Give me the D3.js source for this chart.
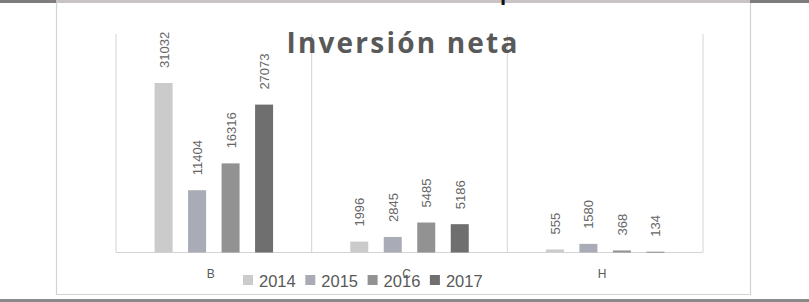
<!DOCTYPE html>
<html>
<head>
<meta charset="utf-8">
<script src="https://cdn.jsdelivr.net/npm/d3@7"></script>
<style>
  html, body { margin: 0; padding: 0; background: #fff; }
  svg { display: block; }
</style>
</head>
<body>
<div id="chart"></div>
<script>
// ━━━━━━━━━━━━━━━━━━━━━━━━━━━━━━━━━━━━━━━━━━━━━━━━━━━━━━━━━━━━━━━━━━━━━━━━━━━━━━
// Inversión neta ////////////////////////////////////////////////////////////////
// ━━━━━━━━━━━━━━━━━━━━━━━━━━━━━━━━━━━━━━━━━━━━━━━━━━━━━━━━━━━━━━━━━━━━━━━━━━━━━━

const categorias = ['B', 'C', 'H'];
const series = ['2014', '2015', '2016', '2017'];
const valores_2014 = [31032, 1996, 555];
const valores_2015 = [11404, 2845, 1580];
const valores_2016 = [16316, 5485, 368];
const valores_2017 = [27073, 5186, 134];
const colores = ['#cbcbcb', '#a9acb6', '#929292', '#6f6f6f'];

const valores = [valores_2014, valores_2015, valores_2016, valores_2017];

const width = 809;
const height = 302;

const svg = d3.select('#chart').append('svg')
  .attr('width', width)
  .attr('height', height)
  .attr('viewBox', [0, 0, width, height]);

// Marco ////////////////////////////////////////////////////////////////////////

svg.append('rect').attr('x', 0).attr('y', 0).attr('width', width).attr('height', 3).attr('fill', '#c9c3c3');
svg.append('rect').attr('x', 0).attr('y', 0).attr('width', 56).attr('height', 3).attr('fill', '#7d7d7d');
svg.append('rect').attr('x', 750).attr('y', 0).attr('width', width - 750).attr('height', 3).attr('fill', '#7d7d7d');
svg.append('rect').attr('x', 0).attr('y', 299).attr('width', width).attr('height', 3).attr('fill', '#8a8a8a');

// descender de un texto cortado arriba
svg.append('text').attr('x', 500).attr('y', 0)
  .attr('font-family', 'Liberation Sans, sans-serif').attr('font-weight', 'bold')
  .attr('font-size', 22).attr('fill', '#111').text('p');

svg.append('path')
  .attr('d', 'M56.5,3V294.5H750.5V3')
  .attr('fill', 'none')
  .attr('stroke', '#cfd4cf')
  .attr('stroke-width', 1.2);

// Escalas ////////////////////////////////////////////////////////////////////

const plot = { left: 116, right: 703, top: 34, bottom: 252.5 };

const x = d3.scaleBand()
  .domain(categorias)
  .range([plot.left, plot.right]);

const xSerie = d3.scalePoint()
  .domain(series)
  .range([-50.25, 50.25]);

const y = d3.scaleLinear()
  .domain([0, 40000])
  .range([plot.bottom, plot.top]);

const barW = 18;

// Grilla /////////////////////////////////////////////////////////////////////

svg.append('g')
  .selectAll('line')
  .data(categorias.concat(['fin']))
  .join('line')
  .attr('x1', d => d === 'fin' ? plot.right : x(d))
  .attr('x2', d => d === 'fin' ? plot.right : x(d))
  .attr('y1', plot.top)
  .attr('y2', plot.bottom)
  .attr('stroke', '#d4d4d4')
  .attr('stroke-width', 1);

svg.append('line')
  .attr('x1', plot.left).attr('x2', plot.right)
  .attr('y1', plot.bottom).attr('y2', plot.bottom)
  .attr('stroke', '#d4d4d4');

// Barras /////////////////////////////////////////////////////////////////////

const datos = [];
series.forEach((s, i) => {
  categorias.forEach((c, j) => {
    datos.push({ serie: s, categoria: c, valor: valores[i][j], color: colores[i] });
  });
});

const cx = d => x(d.categoria) + x.bandwidth() / 2 + xSerie(d.serie);

svg.append('g')
  .selectAll('rect')
  .data(datos)
  .join('rect')
  .attr('x', d => cx(d) - barW / 2)
  .attr('y', d => y(d.valor))
  .attr('width', barW)
  .attr('height', d => plot.bottom - y(d.valor))
  .attr('fill', d => d.color);

svg.append('g')
  .selectAll('text')
  .data(datos)
  .join('text')
  .attr('transform', d => `translate(${cx(d) + 0.5},${y(d.valor) - 15}) rotate(-90)`)
  .attr('dominant-baseline', 'central')
  .attr('font-family', 'Liberation Sans, Arial, sans-serif')
  .attr('font-size', 13)
  .attr('fill', '#666')
  .text(d => d.valor);

// Categorías /////////////////////////////////////////////////////////////////

svg.append('g')
  .selectAll('text')
  .data(categorias)
  .join('text')
  .attr('x', d => x(d) + x.bandwidth() / 2 - 3)
  .attr('y', 278)
  .attr('text-anchor', 'middle')
  .attr('font-family', 'Liberation Sans, Arial, sans-serif')
  .attr('font-size', 12)
  .attr('fill', '#595959')
  .text(d => d);

// Título /////////////////////////////////////////////////////////////////////

svg.append('text')
  .attr('x', 403)
  .attr('y', 53)
  .attr('text-anchor', 'middle')
  .attr('font-family', 'Open Sans, sans-serif')
  .attr('font-weight', 'bold')
  .attr('font-size', 28)
  .attr('letter-spacing', 2.2)
  .attr('fill', '#595959')
  .text('Inversión neta');

// Leyenda ////////////////////////////////////////////////////////////////////

const leyenda = svg.append('g')
  .selectAll('g')
  .data(series)
  .join('g')
  .attr('transform', (d, i) => `translate(${243 + i * 62.3},275)`);

leyenda.append('rect')
  .attr('width', 10)
  .attr('height', 10)
  .attr('fill', (d, i) => colores[i]);

leyenda.append('text')
  .attr('x', 16)
  .attr('y', 11.5)
  .attr('font-family', 'Liberation Sans, Arial, sans-serif')
  .attr('font-size', 16.5)
  .attr('fill', '#595959')
  .text(d => d);
</script>
</body>
</html>
